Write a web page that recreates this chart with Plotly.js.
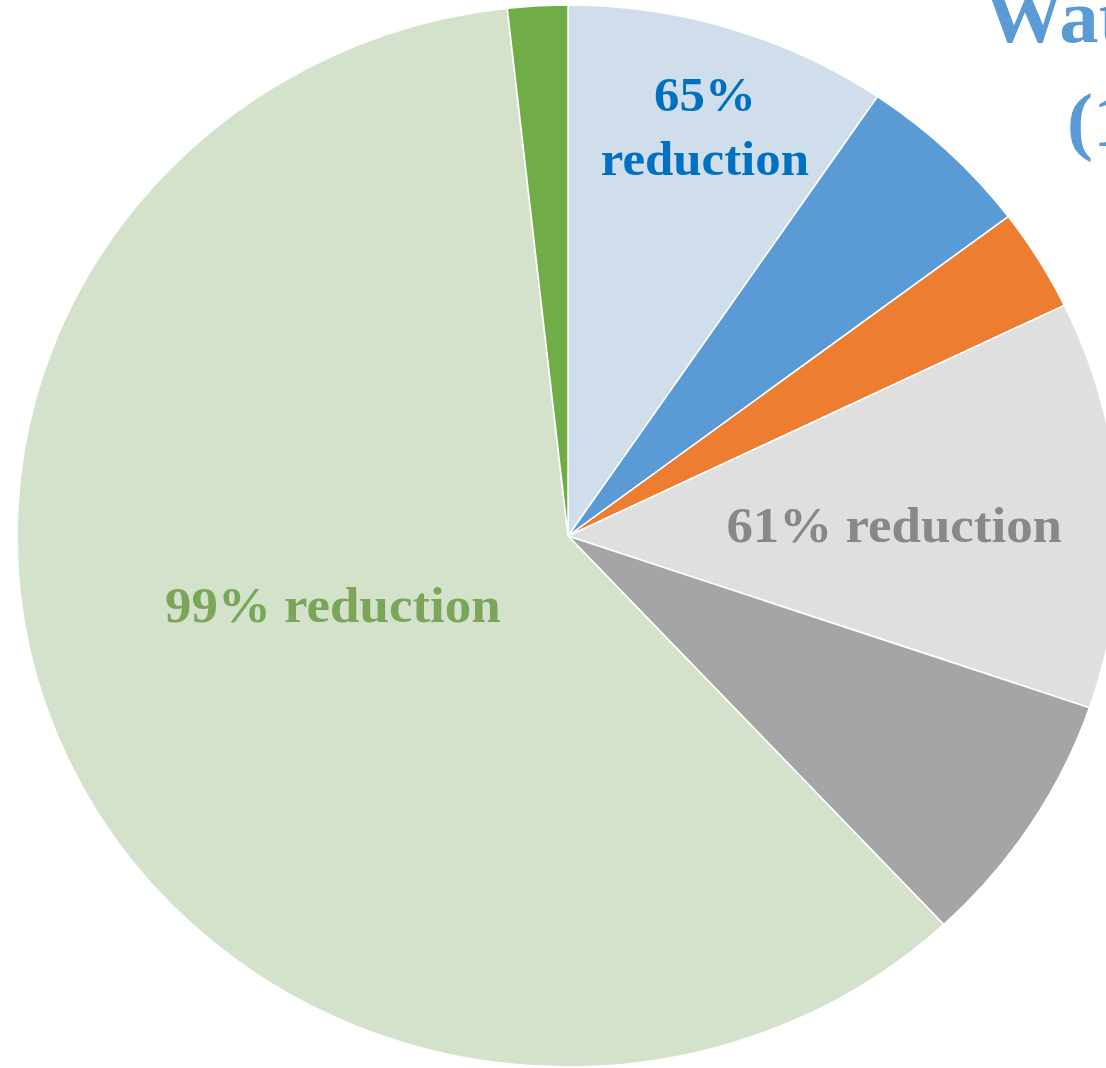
<!DOCTYPE html>
<html>
<head>
<meta charset="utf-8">
<script src="https://cdn.plot.ly/plotly-3.0.1.min.js"></script>
<style>
html,body{margin:0;padding:0;overflow:hidden;background:#fff;width:1106px;height:1068px;}
#chart{width:1106px;height:1068px;transform:scale(1.0377,1);transform-origin:0 0;}
</style>
</head>
<body>
<div id="chart"></div>
<script>
// Slice data (share of total, %), clockwise from 12 o'clock
const categories = ["A (before)", "A (after)", "B (after)", "C (before)", "C (after)", "D (before)", "D (after)"];
const shares = [9.49, 5.24, 3.12, 12.39, 7.82, 60.18, 1.76];
const sliceColors = ["#D0DEEB", "#5B9BD5", "#ED7D31", "#DFDFDF", "#A5A5A5", "#D5E2CB", "#70AD47"];
const labelTexts = ["65%<br>reduction", "61% reduction", "99% reduction"];
const titleLines = ["Water withdrawal", "(1000 m³)"];

const serif = "Liberation Serif, Times New Roman, serif";

const trace = {
  type: "pie",
  labels: categories,
  values: shares,
  sort: false,
  direction: "clockwise",
  rotation: 0,
  textinfo: "none",
  hoverinfo: "none",
  marker: {colors: sliceColors, line: {color: "#ffffff", width: 1.5}},
  domain: {x: [0.01483, 0.97505], y: [0.000936, 0.99532]},
  showlegend: false
};

const layout = {
  width: 1106,
  height: 1068,
  margin: {l: 0, r: 0, t: 0, b: 0},
  paper_bgcolor: "#ffffff",
  showlegend: false,
  annotations: [
    {text: labelTexts[0], xref: "paper", yref: "paper", x: 0.6143, y: 0.882, xanchor: "center", yanchor: "middle", showarrow: false,
     font: {family: serif, size: 49, color: "#0070C0", weight: "bold"}, align: "center"},
    {text: labelTexts[1], xref: "paper", yref: "paper", x: 0.7785, y: 0.5085, xanchor: "center", yanchor: "middle", showarrow: false,
     font: {family: serif, size: 51, color: "#888888", weight: "bold"}},
    {text: labelTexts[2], xref: "paper", yref: "paper", x: 0.2897, y: 0.4335, xanchor: "center", yanchor: "middle", showarrow: false,
     font: {family: serif, size: 51, color: "#7AA65A", weight: "bold"}},
    {text: titleLines[0], xref: "paper", yref: "paper", x: 947/1106, y: 1.026, xanchor: "left", yanchor: "top", showarrow: false,
     font: {family: serif, size: 76, color: "#5B9BD5", weight: "bold"}},
    {text: titleLines[1], xref: "paper", yref: "paper", x: 1026/1106, y: 0.929, xanchor: "left", yanchor: "top", showarrow: false,
     font: {family: serif, size: 76, color: "#5B9BD5", weight: "bold"}}
  ]
};

Plotly.newPlot("chart", [trace], layout, {displayModeBar: false, staticPlot: true});
</script>
</body>
</html>
